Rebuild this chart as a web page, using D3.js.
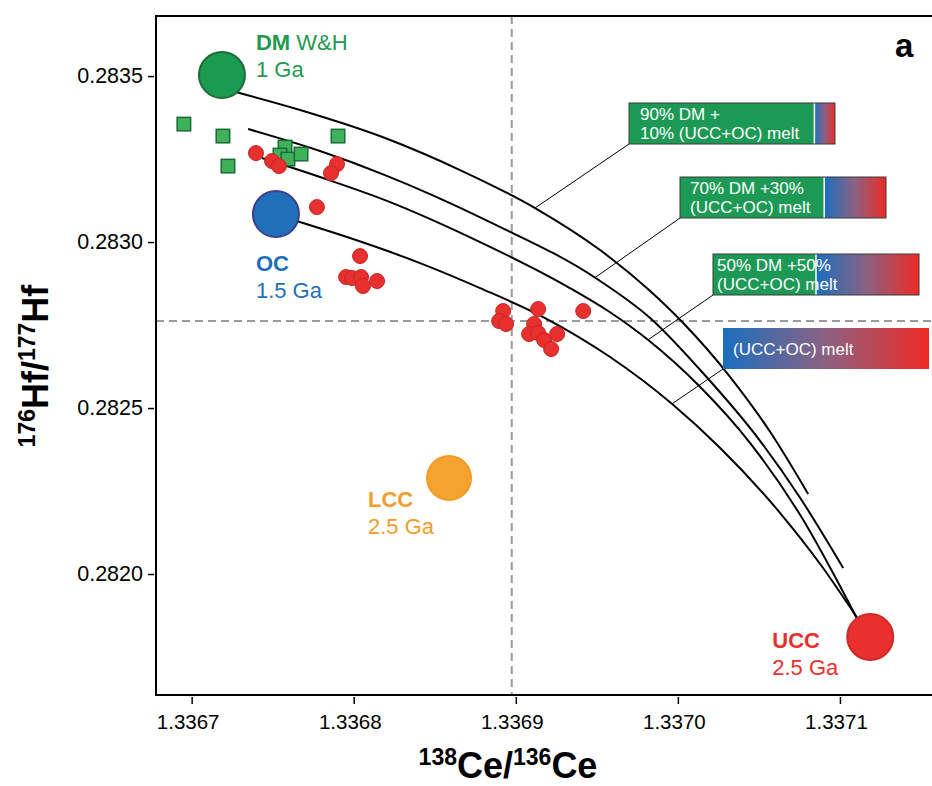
<!DOCTYPE html>
<html>
<head>
<meta charset="utf-8">
<script src="https://cdn.jsdelivr.net/npm/d3@7"></script>
<style>
  body { margin: 0; background: #fff; }
  svg { display: block; font-family: "Liberation Sans", Arial, Helvetica, sans-serif; }
</style>
</head>
<body>
<svg id="chart" width="932" height="786"></svg>
<script>
// ---- data ----
const xTicks = [1.3367, 1.3368, 1.3369, 1.3370, 1.3371];
const yTicks = [0.2820, 0.2825, 0.2830, 0.2835];

// reference lines (dashed)
const refCe = 1.3368975;
const refHf = 0.2827620;

// end-members: name, age label, Ce ratio, Hf ratio
const endmembers = [
  { name: "DM", extra: " W&H", age: "1 Ga", ce: 1.3367187, hf: 0.2835030 },
  { name: "OC", extra: "", age: "1.5 Ga", ce: 1.3367520, hf: 0.2830843 },
  { name: "LCC", extra: "", age: "2.5 Ga", ce: 1.3368588, hf: 0.2822892 },
  { name: "UCC", extra: "", age: "2.5 Ga", ce: 1.3371187, hf: 0.2818102 }
];

// green squares
const squares = [
  [1.3366952, 0.2833554], [1.3367193, 0.2833193], [1.3367224, 0.2832289],
  [1.3367576, 0.2832861], [1.3367545, 0.2832621], [1.3367594, 0.2832500],
  [1.3367675, 0.2832651], [1.3367903, 0.2833193]
];

// red circles
const samples = [
  [1.3367397, 0.2832681], [1.3367496, 0.2832440], [1.3367539, 0.2832289],
  [1.3367897, 0.2832349], [1.3367860, 0.2832078], [1.3367773, 0.2831054],
  [1.3368039, 0.2829578], [1.3367953, 0.2828946], [1.3367990, 0.2828916],
  [1.3368045, 0.2828946], [1.3368057, 0.2828675], [1.3368144, 0.2828825],
  [1.3368922, 0.2827922], [1.3368897, 0.2827621], [1.3368940, 0.2827530],
  [1.3369138, 0.2827982], [1.3369416, 0.2827922], [1.3369113, 0.2827530],
  [1.3369082, 0.2827229], [1.3369138, 0.2827259], [1.3369175, 0.2827048],
  [1.3369255, 0.2827229], [1.3369218, 0.2826777]
];

// mixing curves
const curve90 = [
  [1.3367249, 0.2834548], [1.3367669, 0.2833976], [1.3368193, 0.2833133],
  [1.3368656, 0.2832169], [1.3369119, 0.2831024], [1.3369520, 0.2829759],
  [1.3369829, 0.2828524], [1.3370027, 0.2827590], [1.3370323, 0.2825934],
  [1.3370570, 0.2824277], [1.3370804, 0.2822410]
];
const curve70 = [
  [1.3367348, 0.2833404], [1.3367792, 0.2832741], [1.3368193, 0.2832018],
  [1.3368841, 0.2830602], [1.3369502, 0.2828886], [1.3369829, 0.2827711],
  [1.3370138, 0.2826145], [1.3370508, 0.2824006], [1.3370755, 0.2822289],
  [1.3371020, 0.2820181]
];
const curve50 = [
  [1.3367434, 0.2832530], [1.3367792, 0.2831958], [1.3368193, 0.2831265],
  [1.3368780, 0.2830000], [1.3369323, 0.2828645], [1.3369570, 0.2827922],
  [1.3369817, 0.2827048], [1.3370138, 0.2825633], [1.3370446, 0.2823946],
  [1.3370755, 0.2821777], [1.3371107, 0.2818645]
];
const curve0 = [
  [1.3367607, 0.2830693], [1.3367977, 0.2830120], [1.3368409, 0.2829367],
  [1.3368780, 0.2828614], [1.3369181, 0.2827711], [1.3369582, 0.2826536],
  [1.3369965, 0.2825120], [1.3370261, 0.2823795], [1.3370631, 0.2821837],
  [1.3370878, 0.2820301], [1.3371107, 0.2818675]
];
const curves = [curve90, curve70, curve50, curve0];

// mixture labels
const dmPercent = [90, 70, 50, 0];
const mixLabels = [
  ["90% DM +", "10% (UCC+OC) melt"],
  ["70% DM +30%", "(UCC+OC) melt"],
  ["50% DM +50%", "(UCC+OC) melt"],
  ["(UCC+OC) melt"]
];

// ---- layout ----
const plot = { left: 156, right: 932, top: 16, bottom: 695 };
const colors = {
  DM: { fill: "#1b9a52", stroke: "#1d6b3a", text: "#1f9a50" },
  OC: { fill: "#1f6fb9", stroke: "#3b3f92", text: "#1f70b8" },
  LCC: { fill: "#f5a22f", stroke: "#f29b28", text: "#f29d2c" },
  UCC: { fill: "#e8302f", stroke: "#cf2a2a", text: "#e8302f" }
};
const labelPos = {
  DM: [34, -25], OC: [-20, 57], LCC: [-81, 29], UCC: [-98, 11]
};
const boxPos = [[629, 103], [680, 177], [713, 254], [723, 328]];
const textPad = [11, 10, 4, 10];
const leaderX = [535, 595, 648, 672];
const boxW = 206, boxH = 41;

const svg = d3.select("#chart");

const x = d3.scaleLinear().domain([1.336678, 1.3371568]).range([plot.left, plot.right]);
const y = d3.scaleLinear().domain([0.2816355, 0.283681]).range([plot.bottom, plot.top]);

const defs = svg.append("defs");
const grad = defs.append("linearGradient").attr("id", "melt").attr("x1", "0%").attr("x2", "100%");
grad.append("stop").attr("offset", "0%").attr("stop-color", "#1b6fbf");
grad.append("stop").attr("offset", "50%").attr("stop-color", "#8c6181");
grad.append("stop").attr("offset", "100%").attr("stop-color", "#ee2a25");

defs.append("clipPath").attr("id", "clip").append("rect")
  .attr("x", plot.left).attr("y", plot.top)
  .attr("width", plot.right - plot.left).attr("height", plot.bottom - plot.top);

const g = svg.append("g").attr("clip-path", "url(#clip)");

// dashed reference lines
g.append("line")
  .attr("x1", x(refCe)).attr("x2", x(refCe))
  .attr("y1", plot.top).attr("y2", plot.bottom)
  .attr("stroke", "#9a9a9a").attr("stroke-width", 2).attr("stroke-dasharray", "8,5");
g.append("line")
  .attr("x1", plot.left).attr("x2", plot.right)
  .attr("y1", y(refHf)).attr("y2", y(refHf))
  .attr("stroke", "#9a9a9a").attr("stroke-width", 2).attr("stroke-dasharray", "8,5");

// mixing curves
const line = d3.line().x(d => x(d[0])).y(d => y(d[1])).curve(d3.curveMonotoneX);
const curvePaths = curves.map(c =>
  g.append("path")
    .attr("d", line(c))
    .attr("fill", "none")
    .attr("stroke", "#000")
    .attr("stroke-width", 2)
    .node()
);

// point on path at a given pixel x
function pointAtX(path, px) {
  const len = path.getTotalLength();
  let lo = 0, hi = len;
  for (let i = 0; i < 40; i++) {
    const mid = (lo + hi) / 2;
    if (path.getPointAtLength(mid).x < px) lo = mid; else hi = mid;
  }
  return path.getPointAtLength(lo);
}

// leader lines
boxPos.forEach((b, i) => {
  const p = pointAtX(curvePaths[i], leaderX[i]);
  g.append("line")
    .attr("x1", b[0]).attr("y1", b[1] + boxH)
    .attr("x2", p.x).attr("y2", p.y)
    .attr("stroke", "#000").attr("stroke-width", 1);
});

// squares
const sq = 13.5;
g.selectAll("rect.sq")
  .data(squares)
  .enter()
  .append("rect")
  .attr("class", "sq")
  .attr("x", d => x(d[0]) - sq / 2)
  .attr("y", d => y(d[1]) - sq / 2)
  .attr("width", sq).attr("height", sq)
  .attr("fill", "#3eb159")
  .attr("stroke", "#1d6a3a")
  .attr("stroke-width", 1.5);

// red samples
g.selectAll("circle.s")
  .data(samples)
  .enter()
  .append("circle")
  .attr("class", "s")
  .attr("cx", d => x(d[0]))
  .attr("cy", d => y(d[1]))
  .attr("r", 7.5)
  .attr("fill", "#e8302f")
  .attr("stroke", "#c52628")
  .attr("stroke-width", 1);

// end-member circles
g.selectAll("circle.em")
  .data(endmembers)
  .enter()
  .append("circle")
  .attr("class", "em")
  .attr("cx", d => x(d.ce))
  .attr("cy", d => y(d.hf))
  .attr("r", d => d.name === "LCC" ? 22 : 23)
  .attr("fill", d => colors[d.name].fill)
  .attr("stroke", d => colors[d.name].stroke)
  .attr("stroke-width", 2);

// end-member labels
endmembers.forEach(d => {
  const off = labelPos[d.name];
  const lx = x(d.ce) + off[0], ly = y(d.hf) + off[1];
  const t = svg.append("text")
    .attr("x", lx).attr("y", ly)
    .attr("font-size", 22)
    .attr("fill", colors[d.name].text);
  t.append("tspan").attr("font-weight", "bold").text(d.name);
  if (d.extra) t.append("tspan").text(d.extra);
  svg.append("text")
    .attr("x", lx).attr("y", ly + 27)
    .attr("font-size", 22)
    .attr("fill", colors[d.name].text)
    .text(d.age);
});

// mixture boxes
boxPos.forEach((b, i) => {
  const greenW = boxW * dmPercent[i] / 100;
  const bg = svg.append("g");
  if (greenW > 0) {
    bg.append("rect")
      .attr("x", b[0]).attr("y", b[1])
      .attr("width", greenW).attr("height", boxH)
      .attr("fill", "#1c9a55");
  }
  // gradient spans the melt fraction
  bg.append("rect")
    .attr("x", b[0] + greenW).attr("y", b[1])
    .attr("width", boxW - greenW).attr("height", boxH)
    .attr("fill", "url(#melt)");
  if (greenW > 0) {
    bg.append("line")
      .attr("x1", b[0] + greenW).attr("x2", b[0] + greenW)
      .attr("y1", b[1]).attr("y2", b[1] + boxH)
      .attr("stroke", "#fff").attr("stroke-width", 1.5);
    bg.append("rect")
      .attr("x", b[0]).attr("y", b[1])
      .attr("width", boxW).attr("height", boxH)
      .attr("fill", "none").attr("stroke", "#3a3a3a").attr("stroke-width", 1);
  }
  const lines = mixLabels[i];
  lines.forEach((s, j) => {
    bg.append("text")
      .attr("x", b[0] + textPad[i])
      .attr("y", lines.length === 1 ? b[1] + 27 : b[1] + 16.5 + j * 19)
      .attr("font-size", 17)
      .attr("fill", "#fff")
      .text(s);
  });
});

// frame
svg.append("rect")
  .attr("x", plot.left).attr("y", plot.top)
  .attr("width", plot.right - plot.left + 2).attr("height", plot.bottom - plot.top)
  .attr("fill", "none").attr("stroke", "#000").attr("stroke-width", 2);

// axes
const xAxis = svg.append("g")
  .attr("transform", `translate(0,${plot.bottom + 2})`)
  .call(d3.axisBottom(x).tickValues(xTicks).tickFormat(d3.format(".4f")).tickSize(7).tickPadding(10));
xAxis.select(".domain").remove();
xAxis.selectAll("line").attr("stroke", "#000").attr("stroke-width", 1.5);
xAxis.selectAll("text").attr("font-size", 20.5).attr("font-family", null).attr("fill", "#000").attr("dx", -4);

const yAxis = svg.append("g")
  .attr("transform", `translate(${plot.left - 2},0)`)
  .call(d3.axisLeft(y).tickValues(yTicks).tickFormat(d3.format(".4f")).tickSize(6).tickPadding(5));
yAxis.select(".domain").remove();
yAxis.selectAll("line").attr("stroke", "#000").attr("stroke-width", 1.5);
yAxis.selectAll("text").attr("font-size", 21.5).attr("font-family", null).attr("fill", "#000");

// axis titles
const xt = svg.append("text")
  .attr("x", 508).attr("y", 778)
  .attr("text-anchor", "middle")
  .attr("font-weight", "bold")
  .attr("font-size", 36);
xt.append("tspan").attr("font-size", 23).attr("dy", -13).text("138");
xt.append("tspan").attr("dy", 13).text("Ce/");
xt.append("tspan").attr("font-size", 23).attr("dy", -13).text("136");
xt.append("tspan").attr("dy", 13).text("Ce");

const yt = svg.append("text")
  .attr("transform", "translate(48,366) rotate(-90)")
  .attr("text-anchor", "middle")
  .attr("font-weight", "bold")
  .attr("font-size", 36);
yt.append("tspan").attr("font-size", 23).attr("dy", -13).text("176");
yt.append("tspan").attr("dy", 13).text("Hf/");
yt.append("tspan").attr("font-size", 23).attr("dy", -13).text("177");
yt.append("tspan").attr("dy", 13).text("Hf");

// panel letter
svg.append("text")
  .attr("x", 895).attr("y", 57)
  .attr("font-weight", "bold")
  .attr("font-size", 33)
  .text("a");
</script>
</body>
</html>
